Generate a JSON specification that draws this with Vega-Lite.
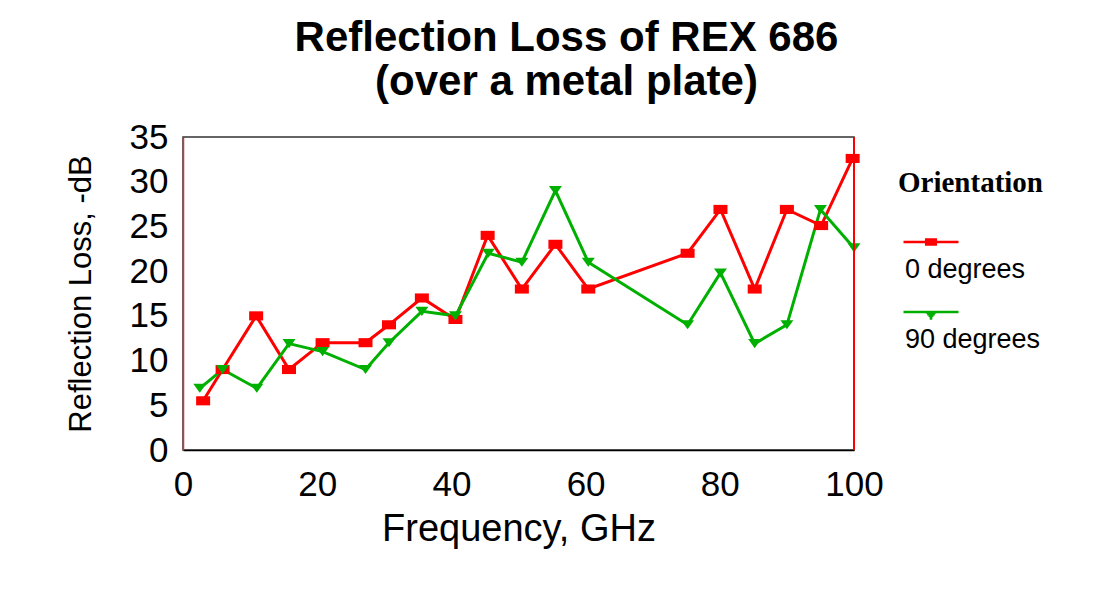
{
  "$schema": "https://vega.github.io/schema/vega-lite/v6.json",
  "width": 671,
  "height": 313,
  "autosize": {"type": "none"},
  "padding": {"left": 183, "top": 137, "right": 263, "bottom": 164},
  "background": "white",
  "title": {
    "text": ["Reflection Loss of REX 686", "(over a metal plate)"],
    "font": "Liberation Sans",
    "fontSize": 42,
    "fontWeight": "bold",
    "color": "black",
    "anchor": "middle",
    "dx": 48,
    "offset": 16,
    "lineHeight": 44
  },
  "data": {
    "values": [
      {"f": 3.0, "loss": 5.5, "Orientation": "0 degrees"},
      {"f": 5.9, "loss": 9.0, "Orientation": "0 degrees"},
      {"f": 10.9, "loss": 15.0, "Orientation": "0 degrees"},
      {"f": 15.8, "loss": 9.0, "Orientation": "0 degrees"},
      {"f": 20.8, "loss": 12.0, "Orientation": "0 degrees"},
      {"f": 27.2, "loss": 12.0, "Orientation": "0 degrees"},
      {"f": 30.7, "loss": 14.0, "Orientation": "0 degrees"},
      {"f": 35.6, "loss": 17.0, "Orientation": "0 degrees"},
      {"f": 40.6, "loss": 14.6, "Orientation": "0 degrees"},
      {"f": 45.4, "loss": 24.0, "Orientation": "0 degrees"},
      {"f": 50.5, "loss": 18.0, "Orientation": "0 degrees"},
      {"f": 55.5, "loss": 23.0, "Orientation": "0 degrees"},
      {"f": 60.4, "loss": 18.0, "Orientation": "0 degrees"},
      {"f": 75.2, "loss": 22.0, "Orientation": "0 degrees"},
      {"f": 80.1, "loss": 26.9, "Orientation": "0 degrees"},
      {"f": 85.2, "loss": 18.0, "Orientation": "0 degrees"},
      {"f": 90.0, "loss": 26.9, "Orientation": "0 degrees"},
      {"f": 95.1, "loss": 25.1, "Orientation": "0 degrees"},
      {"f": 99.8, "loss": 32.6, "Orientation": "0 degrees"},
      {"f": 2.5, "loss": 6.9, "Orientation": "90 degrees"},
      {"f": 5.9, "loss": 9.0, "Orientation": "90 degrees"},
      {"f": 11.0, "loss": 6.9, "Orientation": "90 degrees"},
      {"f": 15.8, "loss": 11.9, "Orientation": "90 degrees"},
      {"f": 20.8, "loss": 11.0, "Orientation": "90 degrees"},
      {"f": 27.2, "loss": 9.0, "Orientation": "90 degrees"},
      {"f": 30.7, "loss": 12.0, "Orientation": "90 degrees"},
      {"f": 35.6, "loss": 15.5, "Orientation": "90 degrees"},
      {"f": 40.6, "loss": 15.0, "Orientation": "90 degrees"},
      {"f": 45.5, "loss": 22.0, "Orientation": "90 degrees"},
      {"f": 50.5, "loss": 21.0, "Orientation": "90 degrees"},
      {"f": 55.5, "loss": 29.0, "Orientation": "90 degrees"},
      {"f": 60.4, "loss": 21.0, "Orientation": "90 degrees"},
      {"f": 75.2, "loss": 14.0, "Orientation": "90 degrees"},
      {"f": 80.1, "loss": 19.8, "Orientation": "90 degrees"},
      {"f": 85.2, "loss": 11.9, "Orientation": "90 degrees"},
      {"f": 90.0, "loss": 14.0, "Orientation": "90 degrees"},
      {"f": 95.0, "loss": 26.9, "Orientation": "90 degrees"},
      {"f": 100.0, "loss": 22.6, "Orientation": "90 degrees"}
    ]
  },
  "encoding": {
    "x": {
      "field": "f",
      "type": "quantitative",
      "scale": {"domain": [0, 100], "nice": false, "zero": false},
      "axis": {"title": "Frequency, GHz", "values": [0, 20, 40, 60, 80, 100]}
    },
    "y": {
      "field": "loss",
      "type": "quantitative",
      "scale": {"domain": [0, 35], "nice": false},
      "axis": {"title": "Reflection Loss, -dB", "values": [0, 5, 10, 15, 20, 25, 30, 35]}
    }
  },
  "layer": [
    {
      "mark": {"type": "line", "strokeWidth": 3},
      "encoding": {
        "color": {
          "field": "Orientation",
          "type": "nominal",
          "scale": {"domain": ["0 degrees", "90 degrees"], "range": ["#ff0000", "#00b000"]},
          "legend": {"title": "Orientation", "orient": "none", "legendX": 715, "legendY": 32, "labelExpr": "['', datum.label]"}
        }
      }
    },
    {
      "transform": [{"filter": "datum.Orientation == '0 degrees'"}],
      "mark": {"type": "point", "filled": true, "opacity": 1, "size": 196, "shape": "M-1,-0.65H1V0.65H-1Z"},
      "encoding": {
        "color": {
          "field": "Orientation",
          "type": "nominal",
          "scale": {"domain": ["0 degrees", "90 degrees"], "range": ["#ff0000", "#00b000"]},
          "legend": {"title": "Orientation", "orient": "none", "legendX": 715, "legendY": 32, "labelExpr": "['', datum.label]"}
        }
      }
    },
    {
      "transform": [{"filter": "datum.Orientation == '90 degrees'"}],
      "mark": {"type": "point", "filled": true, "opacity": 1, "size": 169, "shape": "M-1,-0.7H1L0,0.7Z"},
      "encoding": {
        "color": {
          "field": "Orientation",
          "type": "nominal",
          "scale": {"domain": ["0 degrees", "90 degrees"], "range": ["#ff0000", "#00b000"]},
          "legend": {"title": "Orientation", "orient": "none", "legendX": 715, "legendY": 32, "labelExpr": "['', datum.label]"}
        }
      }
    },
    {
      "transform": [{"filter": "false"}],
      "mark": {"type": "point", "filled": false, "opacity": 1, "strokeWidth": 2.5},
      "encoding": {
        "color": {
          "field": "Orientation",
          "type": "nominal",
          "scale": {"domain": ["0 degrees", "90 degrees"], "range": ["#ff0000", "#00b000"]},
          "legend": {"title": "Orientation", "orient": "none", "legendX": 715, "legendY": 32, "labelExpr": "['', datum.label]"}
        },
        "shape": {
          "field": "Orientation",
          "type": "nominal",
          "scale": {
            "domain": ["0 degrees", "90 degrees"],
            "range": [
              "M-1,0H1M-0.22,-0.09H0.22M-0.22,-0.03H0.22M-0.22,0.03H0.22M-0.22,0.09H0.22",
              "M-1,0H1M-0.19,0.02H0.19M-0.14,0.08H0.14M-0.09,0.14H0.09M-0.05,0.2H0.05M0,0.22V0.28"
            ]
          },
          "legend": {"title": "Orientation", "orient": "none", "legendX": 715, "legendY": 32, "labelExpr": "['', datum.label]"}
        }
      }
    },
    {
      "mark": {"type": "rule", "color": "#ff0000", "strokeWidth": 2},
      "encoding": {"x": {"datum": 100}, "y": {"datum": 0}, "y2": {"datum": 35}}
    }
  ],
  "config": {
    "view": {"stroke": "#333333", "strokeWidth": 1.5},
    "style": {"guide-label": {"lineHeight": 15}},
    "axis": {
      "grid": false,
      "ticks": false,
      "labelFont": "Liberation Sans",
      "labelFontSize": 35,
      "labelColor": "black",
      "titleFont": "Liberation Sans",
      "titleFontWeight": "normal",
      "titleColor": "black",
      "domainColor": "black",
      "domainWidth": 1.5
    },
    "axisX": {"labelPadding": 17, "titleFontSize": 38, "titlePadding": 8, "labelFlush": false},
    "axisY": {"labelPadding": 15, "titleFontSize": 31, "titlePadding": 32, "domainColor": "#c83c3c", "labelFlush": false},
    "legend": {
      "titleFont": "Liberation Serif",
      "titleFontSize": 29,
      "titleFontWeight": "bold",
      "titleColor": "black",
      "titlePadding": 15,
      "labelFont": "Liberation Sans",
      "labelFontSize": 27,
      "labelColor": "black",
      "labelBaseline": "top",
      "labelOffset": -55,
      "labelLimit": 300,
      "symbolSize": 3025,
      "symbolStrokeWidth": 2.5,
      "symbolOffset": 4,
      "rowPadding": -4
    }
  }
}
